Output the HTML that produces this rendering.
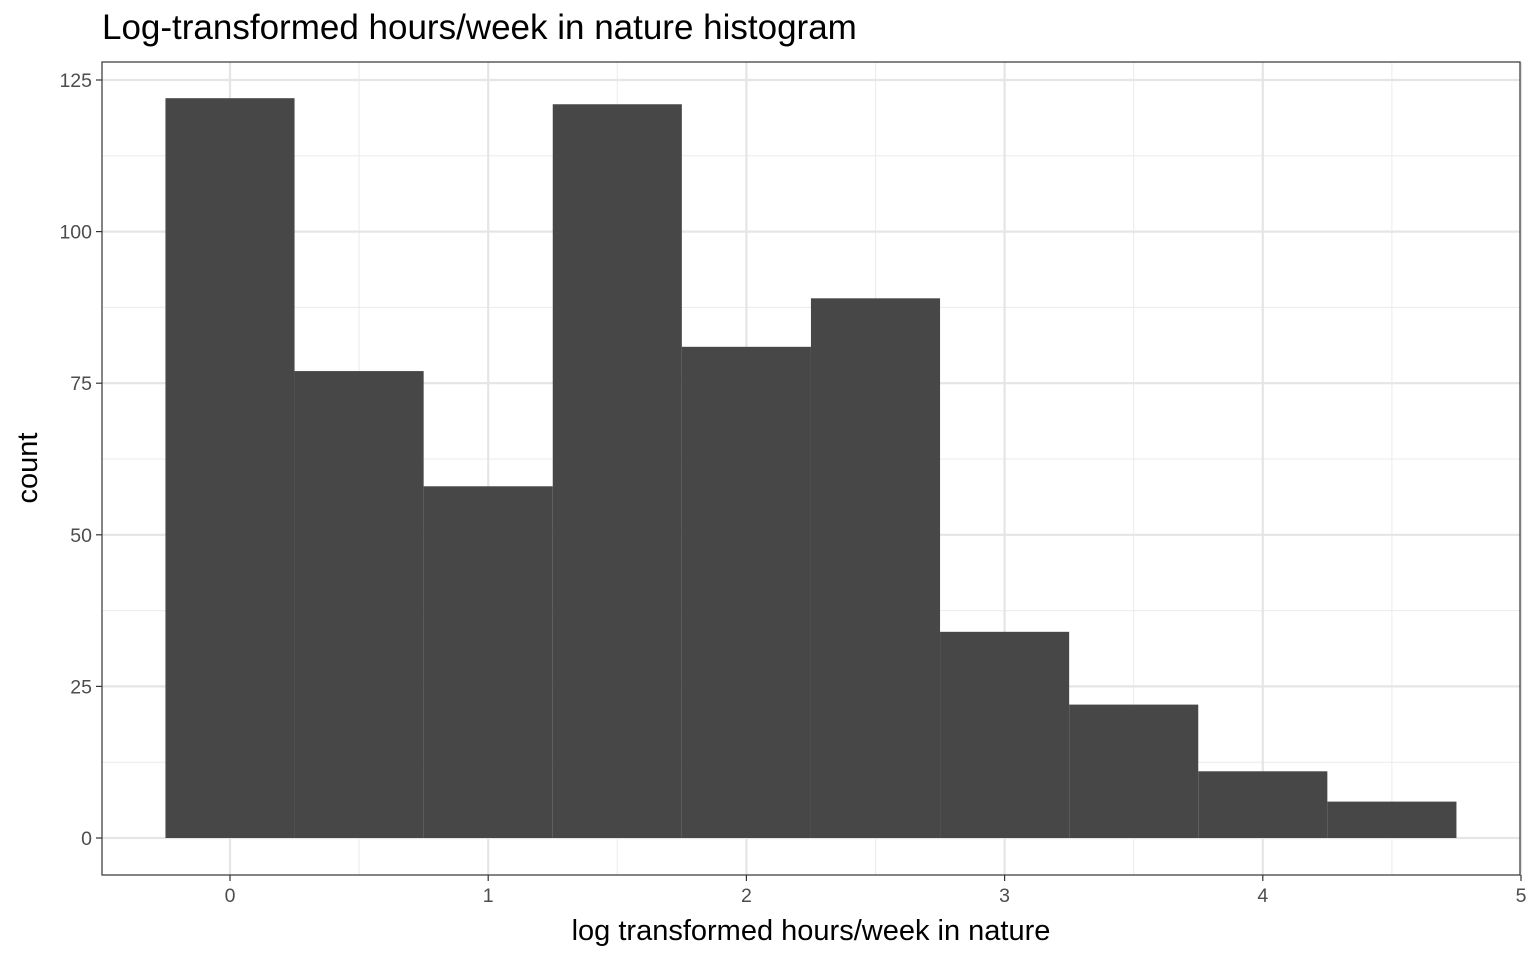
<!DOCTYPE html>
<html><head><meta charset="utf-8"><style>
body{margin:0;background:#fff;}
svg text{font-family:"Liberation Sans",Arial,sans-serif;}
</style></head><body>
<svg width="1536" height="960" xmlns="http://www.w3.org/2000/svg">
<text x="102" y="39" font-size="35" fill="#000">Log-transformed hours/week in nature histogram</text>
<g id="grid"></g>
<g id="bars"></g>
<rect x="102" y="62" width="1418" height="813" fill="none" stroke="#333" stroke-width="1.2"/>
<g id="axes"></g>
<text x="811" y="940" font-size="29" text-anchor="middle" fill="#000">log transformed hours/week in nature</text>
<text transform="translate(37,468) rotate(-90)" font-size="29" text-anchor="middle" fill="#000">count</text>
</svg>
<script>
const binStarts=[-0.25,0.25,0.75,1.25,1.75,2.25,2.75,3.25,3.75,4.25];
const binWidth=0.5;
const counts=[122,77,58,121,81,89,34,22,11,6];
const xTicks=[0,1,2,3,4,5];
const yTicks=[0,25,50,75,100,125];
const NS="http://www.w3.org/2000/svg";
const L=102,R=1520,T=62,B=875;
const sx=v=>230+v*258.2;
const sy=v=>838-v*6.064;
function mk(tag,attrs,parent){const e=document.createElementNS(NS,tag);for(const k in attrs)e.setAttribute(k,attrs[k]);parent.appendChild(e);return e;}
const grid=document.getElementById('grid'),bars=document.getElementById('bars'),axes=document.getElementById('axes');
mk('rect',{x:L,y:T,width:R-L,height:B-T,fill:'#fff'},grid);
for(let i=0;i<xTicks.length;i++){
  const m=xTicks[i]-0.5;
  if(sx(m)>L){const g=mk('line',{x1:sx(m),x2:sx(m),y1:T,y2:B,stroke:'#ebebeb','stroke-width':1},grid);
  }
}
for(let i=0;i<yTicks.length;i++){
  const m=yTicks[i]+12.5;
  if(sy(m)>T){const g=mk('line',{x1:L,x2:R,y1:sy(m),y2:sy(m),stroke:'#ebebeb','stroke-width':1},grid);
  }
}
xTicks.forEach(t=>{const g=mk('line',{x1:sx(t),x2:sx(t),y1:T,y2:B,stroke:'#e5e5e5','stroke-width':2.2},grid);
});
yTicks.forEach(t=>{const g=mk('line',{x1:L,x2:R,y1:sy(t),y2:sy(t),stroke:'#e5e5e5','stroke-width':2.2},grid);
});
counts.forEach((c,i)=>{
  const r=mk('rect',{x:sx(binStarts[i]),y:sy(c),width:sx(binStarts[i]+binWidth)-sx(binStarts[i]),height:sy(0)-sy(c),fill:'#474747'},bars);
  
  
});
xTicks.forEach(t=>{
  mk('line',{x1:sx(t),x2:sx(t),y1:B,y2:B+6,stroke:'#333','stroke-width':1.2},axes);
  const tx=mk('text',{x:sx(t),y:B+27,'font-size':19.5,'text-anchor':'middle',fill:'#4d4d4d'},axes);
  tx.textContent=t;
  
  
});
yTicks.forEach(t=>{
  mk('line',{x1:L-6,x2:L,y1:sy(t),y2:sy(t),stroke:'#333','stroke-width':1.2},axes);
  const tx=mk('text',{x:L-10,y:sy(t)+7,'font-size':19.5,'text-anchor':'end',fill:'#4d4d4d'},axes);
  tx.textContent=t;
  
  
});
</script>
</body></html>
